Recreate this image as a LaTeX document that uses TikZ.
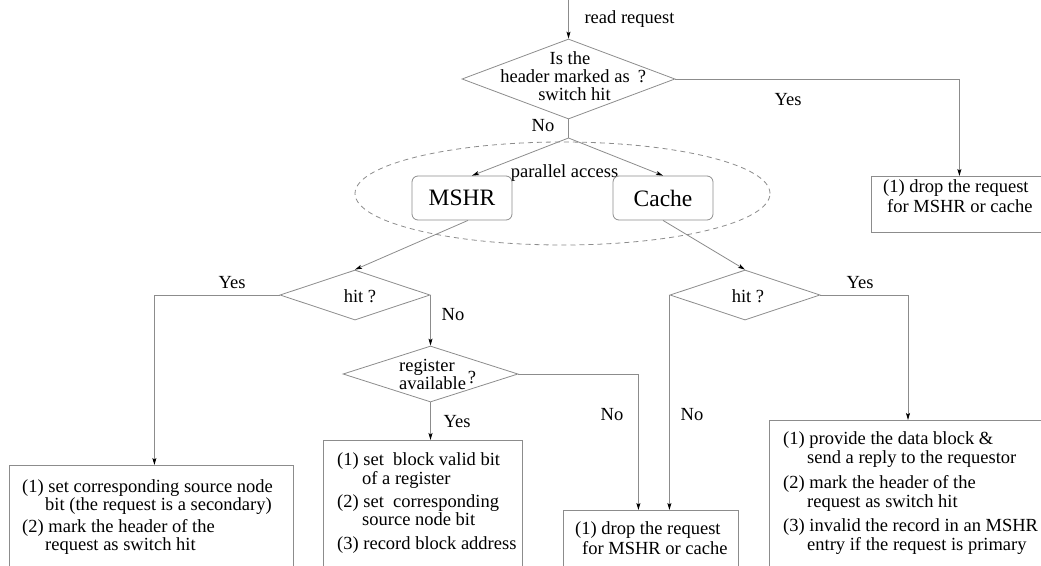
\documentclass[tikz,border=0pt]{standalone}
\usepackage{fontspec}
\setmainfont{Liberation Serif}
\usetikzlibrary{shapes.geometric,arrows.meta,calc}

\begin{document}
\begin{tikzpicture}[x=1pt,y=-1pt,
  ln/.style={draw=black!45, line width=0.8pt},
  arr/.style={ln, -{Stealth[length=7pt,width=4pt,inset=1.5pt,black]}},
  dec/.style={diamond, ln, inner sep=0pt},
  blk/.style={rectangle, ln, inner sep=0pt, anchor=north west},
  unit/.style={rectangle, rounded corners=6pt, ln, inner sep=0pt,
    minimum width=100pt, minimum height=44pt,
    font=\fontsize{23.5}{24}\selectfont},
  txt/.style={inner sep=0pt, font=\fontsize{18.5}{19}\selectfont},
  tl/.style={txt, anchor=base west},
  tc/.style={txt, anchor=base},
]
\useasboundingbox (0,0) rectangle (1041,565);

% ---------- first test: switch hit ----------
\coordinate (in) at (568.5,0);
\node[dec, minimum width=213pt, minimum height=80pt] (q1) at (568.5,79) {};
\node[tc] (q1a) at (570,64) {Is the};
\node[tc] (q1b) at (565,82.7) {header marked as};
\node[tc] (q1c) at (574.5,100.7) {switch hit};
\node[tc] (q1q) at (642,82.7) {?};
\node[tc] (rr) at (629.5,23.3) {read request};
\draw[arr] (in) -- (q1.north);

\node[tc] (q1no) at (543,131.7) {No};
\node[tc] (q1yes) at (788,105) {Yes};

% ---------- parallel lookup ----------
\coordinate (split) at (568.5,138);
\node[ellipse, draw=black!45, line width=0.8pt, dash pattern=on 5pt off 4pt,
      minimum width=415pt, minimum height=103pt, inner sep=0pt] (par) at (562.5,193.5) {};
\node[tc] (pa) at (564.5,177) {parallel access};
\node[unit] (mshr) at (462,198) {MSHR};
\node[unit] (cache) at (663,198) {Cache};

\draw[ln] (q1.south) -- (split);
\draw[arr] (split) -- ([xshift=10pt]mshr.north);
\draw[arr] (split) -- (cache.north);

% ---------- dropped because already served ----------
\node[blk, minimum width=172pt, minimum height=56pt] (drop1) at (871,176) {};
\node[tl] (d1a) at (883,192.5) {(1) drop the request};
\node[tl] (d1b) at (887,212.5) {for MSHR or cache};
\draw[arr] (q1.east) -| ([xshift=2pt]drop1.north);

% ---------- MSHR side ----------
\node[dec, minimum width=150pt, minimum height=50pt] (hit1) at (355,295) {};
\node[tc] (hit1t) at (360,302) {hit ?};
\draw[arr] ([xshift=6pt]mshr.south) -- (hit1.north);

\node[tc] (h1yes) at (232,288.5) {Yes};
\node[tc] (h1no) at (453,320) {No};

\node[dec, minimum width=175pt, minimum height=56pt] (reg) at (430.5,374) {};
\node[tl] (rega) at (399,371) {register};
\node[tl] (regb) at (399,389) {available};
\node[tc] (regq) at (472,383) {?};
\draw[arr] (hit1.east) -- (reg.north);

\node[tc] (ryes) at (457,427.5) {Yes};
\node[tc] (rno) at (612,420) {No};

% secondary miss
\node[blk, minimum width=284pt, minimum height=120pt] (b1) at (9,465) {};
\node[tl] (b1a) at (22,492.5) {(1) set corresponding source node};
\node[tl] (b1b) at (45,510.5) {bit (the request is a secondary)};
\node[tl] (b1c) at (22,532.5) {(2) mark the header of the};
\node[tl] (b1d) at (45,550.5) {request as switch hit};
\draw[arr] (hit1.west) -| ([xshift=3pt]b1.north);

% primary miss, register allocated
\node[blk, minimum width=199pt, minimum height=140pt] (b2) at (323,440) {};
\node[tl] (b2a) at (337,465.5) {(1) set\ \ block valid bit};
\node[tl] (b2b) at (362,484.5) {of a register};
\node[tl] (b2c) at (337,507.5) {(2) set\ \ corresponding};
\node[tl] (b2d) at (362,525.5) {source node bit};
\node[tl] (b2e) at (337,549.5) {(3) record block address};
\draw[arr] (reg.south) -- (reg.south |- b2.north);

% ---------- Cache side ----------
\node[dec, minimum width=150pt, minimum height=50pt] (hit2) at (745,295) {};
\node[tc] (hit2t) at (748,302) {hit ?};
\draw[arr] (cache.south) -- (hit2.north);

\node[tc] (h2yes) at (860,288) {Yes};
\node[tc] (h2no) at (692,420) {No};

% dropped request
\node[blk, minimum width=175pt, minimum height=80pt] (drop2) at (563,510) {};
\node[tl] (d2a) at (575,534.5) {(1) drop the request};
\node[tl] (d2b) at (582,554.5) {for MSHR or cache};
\draw[arr] (reg.east) -| ([xshift=-12.5pt]drop2.north);
\draw[arr] (hit2.west) -| ([xshift=18.5pt]drop2.north);

% cache hit
\node[blk, minimum width=290pt, minimum height=170pt] (b4) at (769,420) {};
\coordinate (b4in) at ($(b4.north west)+(139,0)$);
\node[tl] (b4a) at (783,444.5) {(1) provide the data block \&};
\node[tl] (b4b) at (807,463.5) {send a reply to the requestor};
\node[tl] (b4c) at (783,488) {(2) mark the header of the};
\node[tl] (b4d) at (807,507) {request as switch hit};
\node[tl] (b4e) at (783,531.5) {(3) invalid the record in an MSHR};
\node[tl] (b4f) at (807,550.5) {entry if the request is primary};
\draw[arr] (hit2.east) -| (b4in);
\end{tikzpicture}
\end{document}
